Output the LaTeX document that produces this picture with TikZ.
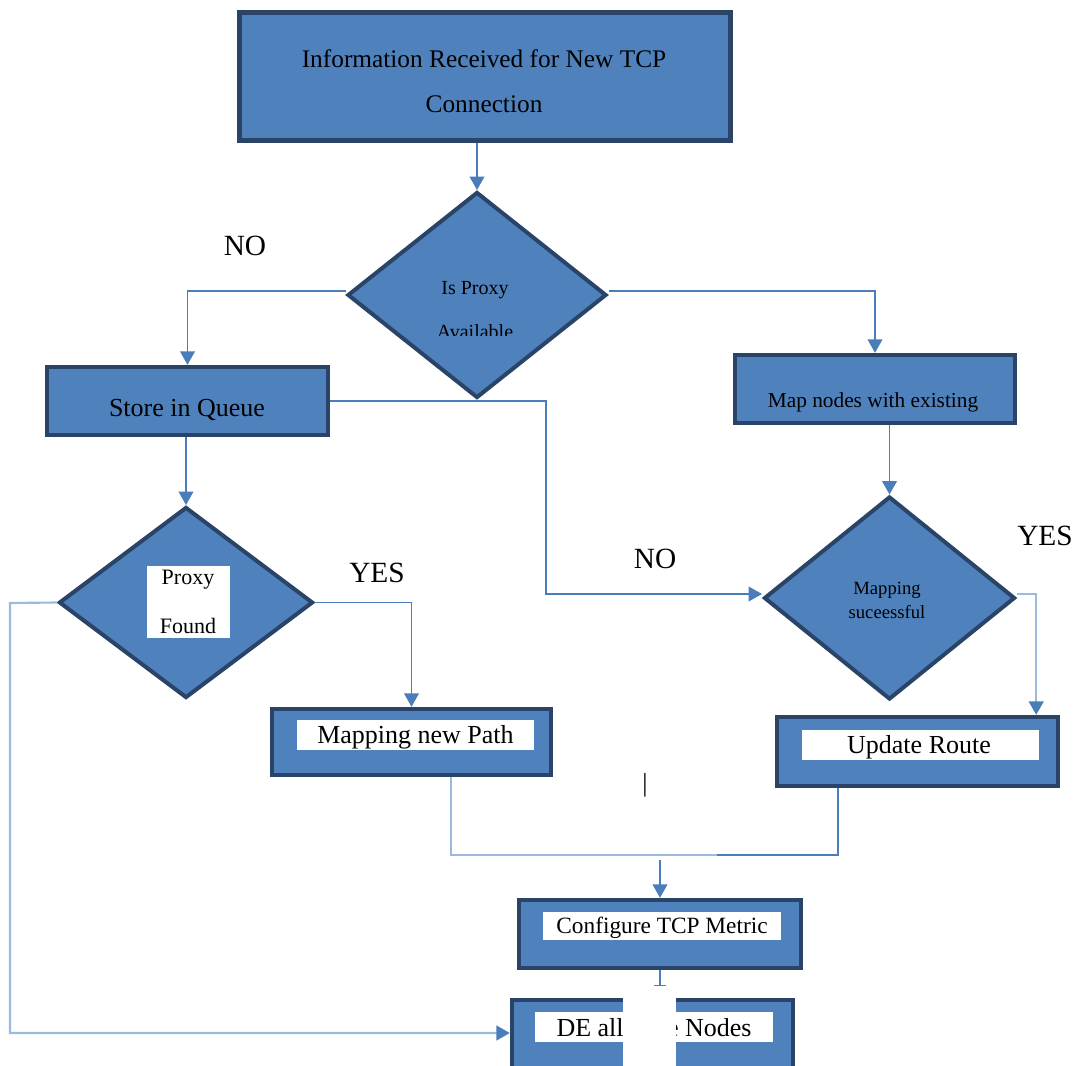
\documentclass[tikz,border=0pt]{standalone}
\usepackage{fontspec}
\setmainfont{Liberation Serif}
\usetikzlibrary{shapes.geometric,arrows.meta}
\definecolor{fillc}{HTML}{4F81BD}
\definecolor{bdr}{HTML}{2A4468}
\definecolor{connc}{HTML}{4A7EBB}
\definecolor{litec}{HTML}{9DB9DF}
\begin{document}
\begin{tikzpicture}[x=0.75pt,y=-0.75pt,
 box/.style={draw=bdr, fill=fillc, line width=3.3pt, inner sep=0pt, align=center},
 dia/.style={diamond, draw=bdr, fill=fillc, line width=3pt, inner sep=0pt},
 wbox/.style={fill=white, inner sep=0pt},
 sz/.style 2 args={minimum width={#1*0.75pt}, minimum height={#2*0.75pt}},
 conn/.style={draw=connc, line width=1.1pt},
 arr/.style={conn, -{Triangle[length=10pt,width=11pt]}},
 lite/.style={draw=litec, line width=1.6pt},
 litearr/.style={lite, -{Triangle[length=10pt,width=11pt,color=connc]}},
 txt/.style={inner sep=0pt, text=black},
 lbl/.style={txt, font=\fontsize{22}{26}\selectfont}
]
\useasboundingbox (0,0) rectangle (1078,1066);
\clip (0,0) rectangle (1078,1066);

% boxes
\node[box, sz={491}{128}] (top) at (485,76.5) {};
\node[txt, align=center, font=\fontsize{19}{33.75}\selectfont] (topt) at (484,81) {Information Received for New TCP\\Connection};

\node[dia, sz={259}{206}] (d1) at (477,295) {};
\node[txt, font=\fontsize{15}{18}\selectfont] (d1t) at (475,290) {Is Proxy};
\begin{scope}
\clip (400,300) rectangle (560,335.5);
\node[txt, anchor=base, font=\fontsize{15}{18}\selectfont] (d1t2) at (475,339) {Available};
\end{scope}

\node[box, sz={281}{68}] (store) at (187.5,401) {};
\node[txt, font=\fontsize{19.5}{23}\selectfont] (storet) at (187,410) {Store in Queue};

\node[box, sz={280}{68}] (map) at (875,389) {};
\node[txt, font=\fontsize{16}{19}\selectfont] (mapt) at (873,402) {Map nodes with existing};

\node[dia, sz={254}{191}] (d2) at (186,602.5) {};
\node[wbox, sz={83}{72}] (d2w) at (188.5,602) {};
\node[txt, font=\fontsize{16.5}{20}\selectfont] (d2t1) at (188,580) {Proxy};
\node[txt, font=\fontsize{16.5}{20}\selectfont] (d2t2) at (188,626) {Found};

\node[dia, sz={251}{203}] (d3) at (889.5,598) {};
\node[txt, font=\fontsize{14}{17}\selectfont] (d3t1) at (887,590) {Mapping};
\node[txt, font=\fontsize{14}{17}\selectfont] (d3t2) at (887,612) {suceessful};

\node[box, sz={279}{66}] (path) at (411.5,742) {};
\node[wbox, sz={237}{30}] (pathw) at (415.5,735) {};
\node[txt, font=\fontsize{19.5}{23}\selectfont] (patht) at (415.5,737) {Mapping new Path};

\node[box, sz={281}{69}] (upd) at (917.5,751.5) {};
\node[wbox, sz={237}{30}] (updw) at (920.5,745) {};
\node[txt, font=\fontsize{19.5}{23}\selectfont] (updt) at (919,747) {Update Route};

\node[box, sz={282}{68}] (conf) at (660,934) {};
\node[wbox, sz={238}{28}] (confw) at (662,926) {};
\node[txt, font=\fontsize{17.5}{21}\selectfont] (conft) at (662,928) {Configure TCP Metric};

\node[box, sz={281}{80}] (de) at (652.5,1040) {};
\node[wbox, sz={238}{30}] (dew) at (654,1027) {};
\node[txt, font=\fontsize{19.5}{23}\selectfont] (det) at (654,1028) {DE allocate Nodes};
\node[fill=white, inner sep=0pt, anchor=north west, sz={53}{75}] (cover) at (623,995) {};

% stray mark
\node[txt, font=\fontsize{19.5}{23}\selectfont] (bar) at (645,785) {|};

% labels
\node[lbl] (no1) at (245,246) {NO};
\node[lbl] (no2) at (655,559) {NO};
\node[lbl] (yes1) at (377,573) {YES};
\node[lbl] (yes2) at (1045,536) {YES};

% connectors
\draw[arr] (d1.north |- top.south) -- (d1.north);
\draw[arr] ([yshift=3pt]d1.west) -| (store.north);
\draw[arr] ([yshift=3pt]d1.east) -| (map.north);
\coordinate (b1) at (546,401);
\draw[arr] (store.east) -- (b1) |- ([yshift=3pt]d3.west);
\draw[arr] (d2.north |- store.south) -- (d2.north);
\draw[arr] (d3.north |- map.south) -- (d3.north);
\draw[arr] (d2.east) -| (path.north);
\coordinate (lc) at (10,603);
\draw[litearr] (d2.west) -- (lc) |- ([yshift=5.25pt]de.west);
\draw[litearr] ([yshift=3pt]d3.east) -| ([xshift=-18pt]upd.north east);
\coordinate (mj) at (660,855);
\coordinate (mk) at (717,855);
\draw[lite] ([xshift=29.6pt]path.south) |- (mk);
\draw[conn] (mk) -| ([xshift=-59.6pt]upd.south);
\draw[arr] ([yshift=-4pt]mj) -- (conf.north);
\draw[conn, -{Bar[width=9pt]}] (conf.south) -- ++(0,16);
\end{tikzpicture}
\end{document}
